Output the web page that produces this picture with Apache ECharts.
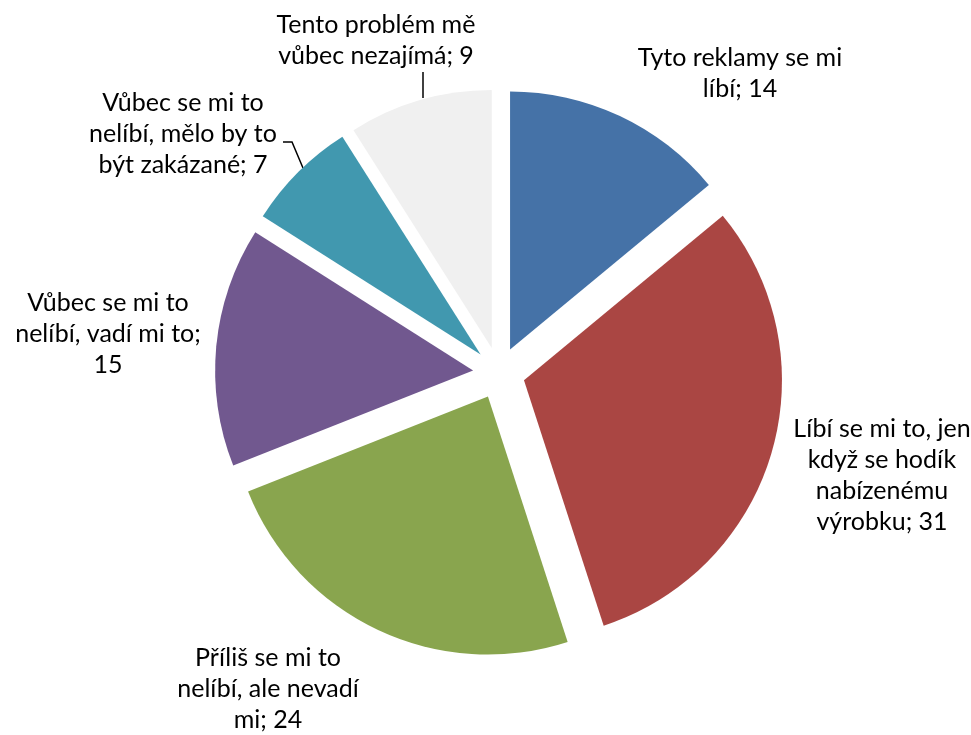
<!DOCTYPE html>
<html>
<head>
<meta charset="utf-8">
<script src="https://cdn.jsdelivr.net/npm/echarts@6/dist/echarts.min.js"></script>
<style>
  html, body { margin: 0; padding: 0; background: #fff; }
  #chart { width: 971px; height: 735px; }
</style>
</head>
<body>
<div id="chart"></div>
<script>
// Survey answers; line breaks follow the wrapped label layout
const categories = [
  'Tyto reklamy se mi\nlíbí',
  'Líbí se mi to, jen\nkdyž se hodík\nnabízenému\nvýrobku',
  'Příliš se mi to\nnelíbí, ale nevadí\nmi',
  'Vůbec se mi to\nnelíbí, vadí mi to;\n',
  'Vůbec se mi to\nnelíbí, mělo by to\nbýt zakázané',
  'Tento problém mě\nvůbec nezajímá'
];
const values = [14, 31, 24, 15, 7, 9];
const colors = ['#4572A7', '#AA4643', '#89A54E', '#71588F', '#4198AF', '#F0F0F0'];

// Where each data label sits (centre of the text block) and its leader line, if any
const labelSpots = [
  [740, 73],
  [882, 475],
  [268, 689],
  [108, 334],
  [183, 134],
  [376, 40]
];
const leaderLines = [
  null, null, null, null,
  [[303, 168], [292, 142], [283, 142]],
  [[423, 98], [423, 72]]
];

const labelText = (i) => categories[i].endsWith(';\n')
  ? categories[i] + values[i]
  : categories[i] + '; ' + values[i];

const data = categories.map((name, i) => ({
  name: name,
  value: values[i],
  selected: true,
  itemStyle: { color: colors[i] }
}));

const graphics = [];
categories.forEach((_, i) => {
  graphics.push({
    type: 'text',
    x: labelSpots[i][0],
    y: labelSpots[i][1],
    silent: true,
    style: {
      text: labelText(i),
      fontFamily: 'Lato',
      fontSize: 25,
      lineHeight: 31,
      fill: '#000',
      align: 'center',
      verticalAlign: 'middle'
    }
  });
  if (leaderLines[i]) {
    graphics.push({
      type: 'polyline',
      silent: true,
      shape: { points: leaderLines[i] },
      style: { stroke: '#000', lineWidth: 1.5, fill: null }
    });
  }
});

const chart = echarts.init(document.getElementById('chart'));
chart.setOption({
  animation: false,
  backgroundColor: '#ffffff',
  graphic: graphics,
  series: [{
    type: 'pie',
    center: [499, 373],
    radius: 258,
    startAngle: 90,
    clockwise: true,
    selectedMode: 'multiple',
    selectedOffset: 26,
    emphasis: { disabled: true },
    itemStyle: { borderWidth: 0 },
    label: { show: false },
    labelLine: { show: false },
    data: data
  }]
});
</script>
</body>
</html>
